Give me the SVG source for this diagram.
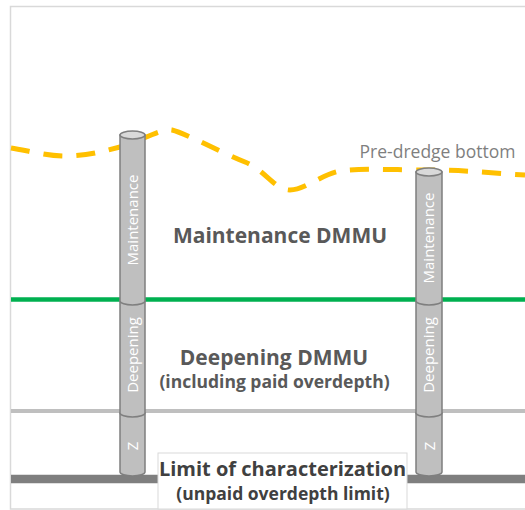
<svg xmlns="http://www.w3.org/2000/svg" width="525" height="510" viewBox="0 0 525 510">
<defs>
<style>
.frame{stroke:#d9d9d9;stroke-width:1.5;fill:none}
.lvl{fill:none}
.seg{fill:#bfbfbf;stroke:#7f7f7f;stroke-width:1.5}
.cap{fill:#d9d9d9;stroke:#7f7f7f;stroke-width:1.5}
.clbl{font-family:"Open Sans","DejaVu Sans",sans-serif;font-size:15px;fill:#ffffff;text-anchor:middle}
.big{font-family:"Open Sans","DejaVu Sans",sans-serif;font-weight:bold;font-size:21px;fill:#595959;text-anchor:middle}
.sub{font-family:"Open Sans","DejaVu Sans",sans-serif;font-weight:bold;font-size:17.5px;fill:#595959;text-anchor:middle}
.dark{fill:#404040}
.lim{font-size:20px}
.pre{font-family:"Open Sans","DejaVu Sans",sans-serif;font-size:17.5px;fill:#7f7f7f;text-anchor:middle}
</style>
</defs>
<rect width="525" height="510" fill="#ffffff"/>
<path class="frame" d="M530,6.5 H10.5 V509 H530"/>
<g id="connectors">
<path id="pre-dredge" d="M11,148 C30,151 50,157 70,156 C90,155 100,152 120,147 C140,142 160,128 172,130 C185,133 220,152 245,162 C265,170 275,190 290,190 C305,190 320,175 340,171 C360,168 400,170 430,170 C470,170 500,174 525,175" fill="none" stroke="#ffc000" stroke-width="5" stroke-dasharray="19 14"/>
<line id="maint-limit" class="lvl" x1="11" y1="299.5" x2="525" y2="299.5" stroke="#00b050" stroke-width="4.5"/>
<line id="deep-limit" class="lvl" x1="11" y1="411" x2="525" y2="411" stroke="#bfbfbf" stroke-width="4"/>
<line id="char-limit" class="lvl" x1="11" y1="479" x2="525" y2="479" stroke="#7f7f7f" stroke-width="8.5"/>
</g>
<g id="core-left">
<path class="seg" d="M120,413 V472 A12.5,4 0 0 0 145,472 V413 Z"/>
<path class="seg" d="M120,301 V413 A12.5,4 0 0 0 145,413 V301 Z"/>
<path class="seg" d="M120,135 V301 A12.5,4 0 0 0 145,301 V135 Z"/>
<ellipse class="cap" cx="132.5" cy="135" rx="12.5" ry="4"/>
<text class="clbl" transform="translate(132.5,220) rotate(-90)" y="5">Maintenance</text>
<text class="clbl" transform="translate(132.5,355) rotate(-90)" y="5">Deepening</text>
<text class="clbl" transform="translate(132.5,446) rotate(-90)" y="5.5" font-size="16">Z</text>
</g>
<g id="core-right">
<path class="seg" d="M416,413 V472 A13,4 0 0 0 442,472 V413 Z"/>
<path class="seg" d="M416,301 V413 A13,4 0 0 0 442,413 V301 Z"/>
<path class="seg" d="M416,172 V301 A13,4 0 0 0 442,301 V172 Z"/>
<ellipse class="cap" cx="429" cy="172" rx="13" ry="4"/>
<text class="clbl" transform="translate(429,238) rotate(-90)" y="5">Maintenance</text>
<text class="clbl" transform="translate(429,355) rotate(-90)" y="5">Deepening</text>
<text class="clbl" transform="translate(429,446) rotate(-90)" y="5.5" font-size="16">Z</text>
</g>
<g id="label-pre-dredge">
<text class="pre" x="437.5" y="158">Pre-dredge bottom</text>
</g>
<g id="label-maintenance">
<text class="big" x="280" y="243">Maintenance DMMU</text>
</g>
<g id="label-deepening">
<text class="big" x="274" y="365">Deepening DMMU</text>
<text class="sub" x="274.5" y="388">(including paid overdepth)</text>
</g>
<g id="label-limit">
<rect x="158" y="453" width="249" height="56" fill="#ffffff" stroke="#d9d9d9" stroke-width="1"/>
<text class="big dark lim" x="282.5" y="476">Limit of characterization</text>
<text class="sub dark" x="283" y="500">(unpaid overdepth limit)</text>
</g>
</svg>
